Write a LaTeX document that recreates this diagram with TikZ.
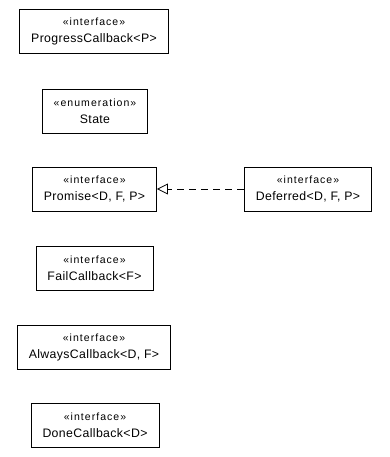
\documentclass[tikz,border=0pt]{standalone}
\usepackage{fontspec}
\setmainfont{Liberation Sans}
\usepackage{tikz}
\usetikzlibrary{positioning}
\usetikzlibrary{arrows.meta}
\pgfdeclarelayer{nodelayer}
\pgfdeclarelayer{edgelayer}
\pgfsetlayers{edgelayer,nodelayer,main}
\tikzset{
    klass/.style = {draw, thick, fill=white, rectangle, align=center,
      minimum height=44pt, inner xsep=11.5pt, inner ysep=0pt,
      font=\fontsize{12.3}{17}\selectfont\addfontfeature{LetterSpace=3}},
    realize/.style = {thick, dashed, dash pattern=on 7pt off 5pt,
      -{Triangle[open, length=11pt, width=11pt]}}
}
\newcommand{\stereo}[1]{{\fontsize{10.5}{12}\selectfont\addfontfeature{LetterSpace=10}\guillemotleft #1\guillemotright}}

\begin{document}
\begin{tikzpicture}[x=1pt, y=-1pt]
  \useasboundingbox (0, 0) rectangle (389, 457);
  \begin{pgfonlayer}{nodelayer}
    \node [klass] (0) at (94, 31.5) {\stereo{interface}\\ProgressCallback<P>};
    \node [klass] (1) at (95, 111) {\stereo{enumeration}\\State};
    \node [klass] (2) at (94.5, 189) {\stereo{interface}\\Promise<D, F, P>};
    \node [klass] (3) at (308, 189) {\stereo{interface}\\Deferred<D, F, P>};
    \node [klass] (4) at (94.5, 268) {\stereo{interface}\\FailCallback<F>};
    \node [klass] (5) at (94, 347) {\stereo{interface}\\AlwaysCallback<D, F>};
    \node [klass] (6) at (95, 425.5) {\stereo{interface}\\DoneCallback<D>};
  \end{pgfonlayer}
  \begin{pgfonlayer}{edgelayer}
    \draw [realize] (3) to (2);
  \end{pgfonlayer}
\end{tikzpicture}
\end{document}
